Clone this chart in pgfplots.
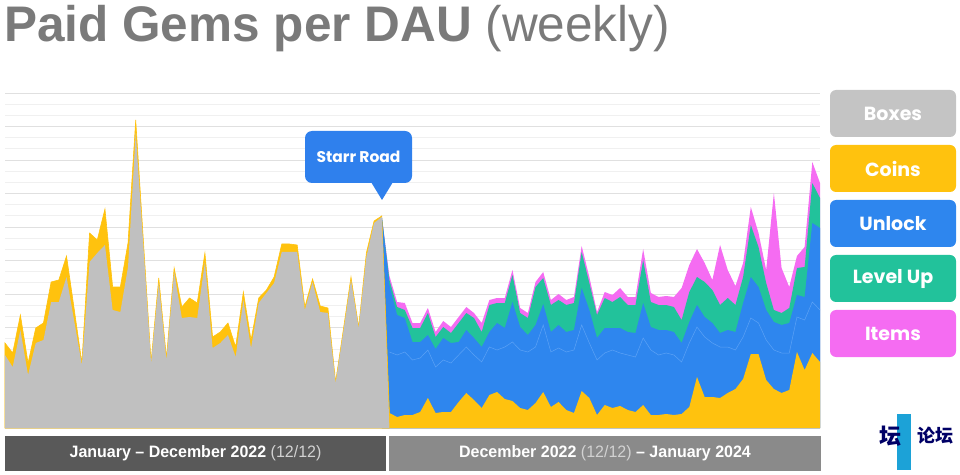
\documentclass[border=0pt]{standalone}
\usepackage{pgfplots}
\pgfplotsset{compat=1.18}
\usepackage{pgfplotstable}
\usepackage{fontspec}
\setmainfont{Liberation Sans}
\newfontfamily\condfont[FakeStretch=0.97]{Liberation Sans}
\newfontfamily\titlefont[FakeStretch=0.99]{Liberation Sans}
\newfontfamily\pop{Poppins}
\newfontfamily\cjk{Noto Sans CJK SC}
\definecolor{boxC}{HTML}{C0C0C0}
\definecolor{boxL}{HTML}{C4C4C4}
\definecolor{coinsC}{HTML}{FFC20E}
\definecolor{unlockC}{HTML}{2E86EE}
\definecolor{lbC}{HTML}{5CA2F6}
\definecolor{levelC}{HTML}{22C29B}
\definecolor{itemsC}{HTML}{F56CF2}
\definecolor{starrC}{HTML}{2F80ED}
\definecolor{titleC}{HTML}{7A7A7A}
\definecolor{barL}{HTML}{595959}
\definecolor{barR}{HTML}{8A8A8A}
\definecolor{dimW}{HTML}{D2D2D2}

\pgfplotstableread{
i boxes coins
0 73 85
1 61 75
2 98 113
3 53 65
4 85 100
5 88 105
6 126 146
7 126 148
8 151 172
9 107 119
10 63 65
11 166 195
12 175 188
13 183 219
14 118 141
15 116 141
16 161 185
17 295 308
18 182 187
19 65 66
20 145 150
21 68 70
22 156 160
23 110 121
24 111 130
25 110 125
26 166 175
27 80 91
28 85 96
29 93 105
30 71 81
31 128 136
32 80 88
33 125 130
34 135 138
35 145 151
36 176 184
37 176 184
38 176 183
39 118 121
40 146 149
41 116 122
42 115 120
43 45 46
44 96 98
45 148 151
46 100 101
47 171 175
48 205 207
49 211 212
50 0 15
}\leftdata

\pgfplotstableread{
i coins lb unlock level items
49 212 212 212 212 212
50 15 76 143 148 152
51 11 73 113 121 126
52 13 76 110 118 125
53 13 68 86 100 105
54 16 70 86 100 105
55 30 78 93 115 120
56 15 61 79 91 96
57 16 68 90 101 107
58 16 65 85 95 101
59 26 73 86 105 111
60 35 81 98 115 121
61 28 73 90 110 115
62 20 66 81 96 105
63 33 81 96 123 128
64 36 78 105 125 130
65 29 81 100 125 130
66 27 86 126 153 158
67 20 78 101 115 120
68 18 76 93 110 115
69 25 81 103 141 146
70 36 103 124 150 156
71 21 76 96 123 128
72 26 80 103 128 134
73 18 76 96 123 128
74 15 78 98 125 131
75 37 103 140 176 182
76 30 85 118 145 151
77 13 68 90 113 116
78 23 75 100 130 136
79 20 78 100 126 133
80 22 75 100 131 140
81 18 73 96 123 131
82 16 71 95 123 131
83 23 90 125 168 179
84 13 78 101 126 135
85 13 73 98 123 131
86 14 75 98 123 132
87 13 73 96 121 131
88 14 66 85 108 140
89 21 85 106 136 163
90 51 101 123 151 179
91 31 91 111 146 165
92 31 85 105 138 148
93 30 81 95 123 183
94 35 81 98 130 158
95 39 78 96 123 142
96 49 91 125 151 165
97 74 110 151 203 221
98 74 105 141 181 195
99 48 88 118 145 158
100 39 78 106 118 235
101 35 75 103 115 160
102 38 75 105 120 141
103 76 111 133 160 172
104 58 108 131 161 181
105 75 126 205 245 266
106 66 118 200 230 245
}\rightdata

\begin{document}
\begin{tikzpicture}[x=1pt,y=1pt]
\useasboundingbox (0,0) rectangle (960,474);
% title
\node[anchor=base west, inner sep=0pt, text=titleC] at (4,432)
  {\titlefont\fontsize{50}{58}\selectfont\bfseries Paid Gems per DAU \mdseries(weekly)};
\begin{axis}[
  at={(5pt,46pt)}, anchor=south west, scale only axis,
  width=815pt, height=335pt,
  xmin=0, xmax=106, ymin=0, ymax=335,
  ytick={0,33.5,...,335}, minor y tick num=2,
  ymajorgrids, yminorgrids,
  major grid style={draw=black!12, line width=0.9pt},
  minor grid style={draw=black!6, line width=0.8pt},
  xtick=\empty, yticklabel=\empty,
  major tick length=0pt, minor tick length=0pt,
  axis line style={draw=none},
  clip=false,
]
\addplot[fill=itemsC, draw=none] table[x=i,y=items]{\rightdata} \closedcycle;
\addplot[fill=levelC, draw=none] table[x=i,y=level]{\rightdata} \closedcycle;
\addplot[fill=unlockC, draw=none] table[x=i,y=unlock]{\rightdata} \closedcycle;
\addplot[lbC, line width=0.5pt, restrict x to domain=50:106] table[x=i,y=lb]{\rightdata};
\addplot[fill=coinsC, draw=none] table[x=i,y=coins]{\rightdata} \closedcycle;
\addplot[fill=coinsC, draw=coinsC, line width=0.6pt] table[x=i,y=coins]{\leftdata} \closedcycle;
\addplot[fill=boxC, draw=none] table[x=i,y=boxes]{\leftdata} \closedcycle;
\end{axis}
% Starr Road callout
\fill[starrC, rounded corners=7pt] (305,291) rectangle (412,343);
\fill[starrC] (371,292) -- (393,292) -- (382,274) -- cycle;
\node[text=white] at (358.5,317) {\pop\fontsize{15.5}{18}\selectfont\bfseries Starr Road};
% legend
\foreach \c/\t/\yc in {boxL/Boxes/360.5, coinsC/Coins/305.5, unlockC/Unlock/250.5, levelC/Level Up/195.5, itemsC/Items/140.5}{
  \fill[\c, rounded corners=6pt] (830,\yc-23.5) rectangle (956,\yc+23.5);
  \node[text=white] at (893,\yc) {\pop\fontsize{19}{22}\selectfont\bfseries \t};
}
% bottom bars
\fill[barL] (5,3) rectangle (386,38);
\fill[barR] (389,3) rectangle (821,38);
\node[text=white] at (195.5,20.5) {\condfont\fontsize{16.5}{19}\selectfont\bfseries January – December 2022 \mdseries\color{dimW}(12/12)};
\node[text=white] at (605,20.5) {\condfont\fontsize{16.5}{19}\selectfont\bfseries December 2022 {\mdseries\color{dimW}(12/12)} – January 2024};
% watermark
\fill[cyan!75!teal] (897,4) rectangle (911,60);
\node[text=blue!40!black] at (890,38) {\cjk\fontsize{22}{24}\selectfont\bfseries 坛};
\node[text=blue!40!black] at (935,38) {\cjk\fontsize{18}{20}\selectfont\bfseries 论坛};
\end{tikzpicture}
\end{document}
